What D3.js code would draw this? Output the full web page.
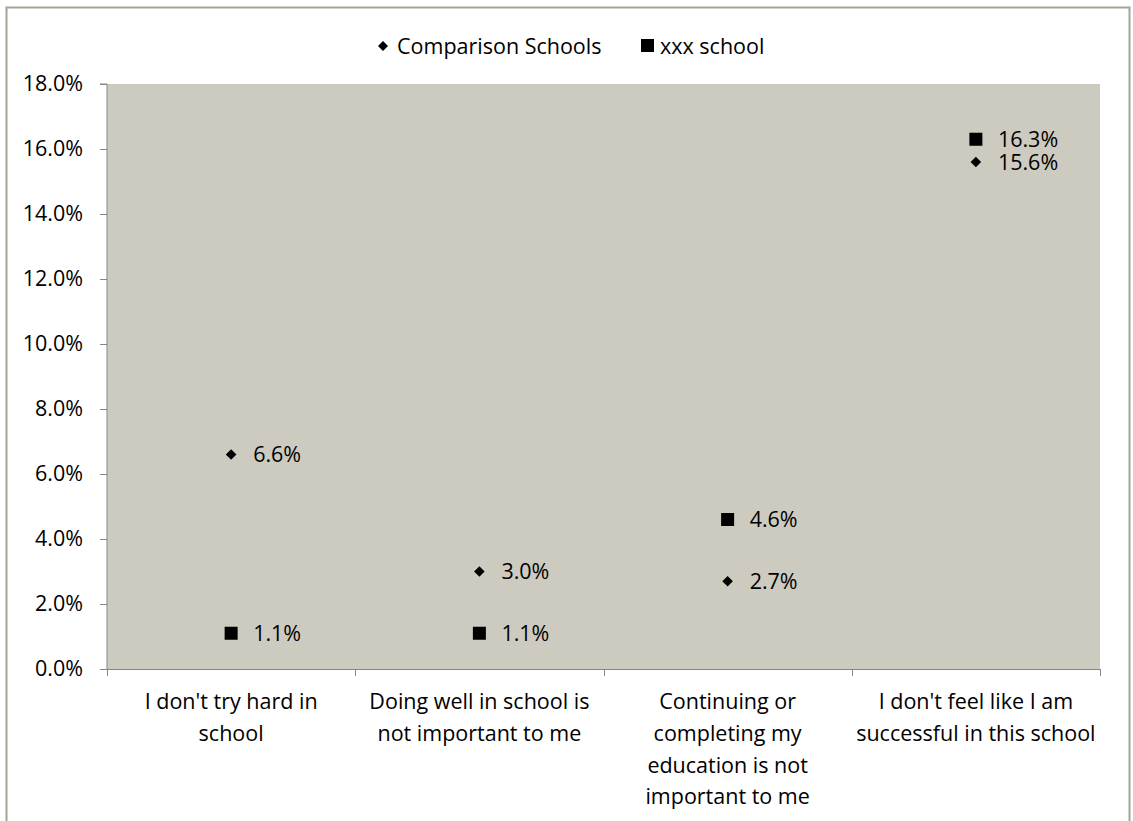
<!DOCTYPE html>
<html><head><meta charset="utf-8">
<script src="https://cdn.jsdelivr.net/npm/d3@7"></script>
<style>body{margin:0;background:#fff}svg text{font-family:"Open Sans",sans-serif;fill:#000}</style>
</head><body>
<svg id="c" width="1133" height="821"></svg>
<script>
const categories = [
  ["I don't try hard in", "school"],
  ["Doing well in school is", "not important to me"],
  ["Continuing or", "completing my", "education is not", "important to me"],
  ["I don't feel like I am", "successful in this school"]
];
const comparisonSchools = [6.6, 3.0, 2.7, 15.6];
const xxxSchool = [1.1, 1.1, 4.6, 16.3];
const yTicks = [0, 2, 4, 6, 8, 10, 12, 14, 16, 18];
const seriesNames = ["Comparison Schools", "xxx school"];

const FS = "21.5px";
const svg = d3.select("#c");
const m = {l: 107, r: 1100, t: 84, b: 669};

svg.append("rect").attr("x", 6.5).attr("y", 7.5).attr("width", 1123).attr("height", 820)
  .attr("fill", "#fff").attr("stroke", "#a2a596").attr("stroke-width", 2);

const x = d3.scaleBand().domain(d3.range(categories.length)).range([m.l, m.r]);
const y = d3.scaleLinear().domain([0, 18]).range([m.b, m.t]);

svg.append("rect").attr("x", m.l).attr("y", m.t).attr("width", m.r - m.l).attr("height", m.b - m.t)
  .attr("fill", "#cdcbbf");

// y axis
const ya = svg.append("g").attr("transform", `translate(${m.l},0)`)
  .call(d3.axisLeft(y).tickValues(yTicks).tickFormat(d => d.toFixed(1) + "%").tickSize(7).tickPadding(17));
ya.select(".domain").attr("stroke", "#868686").attr("d", `M-7,${m.t}H0V${m.b}`);
ya.selectAll(".tick line").attr("stroke", "#868686");
ya.selectAll(".tick text").style("font-size", FS).attr("fill", "#000");

// x axis
const xa = svg.append("g").attr("transform", `translate(0,${m.b})`);
xa.append("line").attr("x1", m.l).attr("x2", m.r).attr("y1", 0.5).attr("y2", 0.5).attr("stroke", "#868686");
const bounds = d3.range(categories.length + 1).map(i => m.l + i * x.step());
xa.selectAll("line.t").data(bounds).join("line").attr("class", "t")
  .attr("x1", d => Math.round(d) + 0.5).attr("x2", d => Math.round(d) + 0.5).attr("y1", 0).attr("y2", 7).attr("stroke", "#868686");
categories.forEach((lines, i) => {
  const t = xa.append("text").attr("text-anchor", "middle").style("font-size", FS)
    .attr("x", x(i) + x.bandwidth() / 2).attr("y", 40);
  lines.forEach((ln, j) => t.append("tspan").attr("x", x(i) + x.bandwidth() / 2).attr("dy", j ? 31.8 : 0).text(ln));
});

const cx = i => x(i) + x.bandwidth() / 2;

// comparison diamonds
const g1 = svg.append("g");
comparisonSchools.forEach((v, i) => {
  g1.append("path").attr("d", d3.symbol().type(d3.symbolSquare).size(56)())
    .attr("transform", `translate(${cx(i)},${y(v)}) rotate(45)`).attr("fill", "#000");
  g1.append("text").attr("x", cx(i) + 22).attr("y", y(v)).attr("dy", "0.35em").style("font-size", FS)
    .text(v.toFixed(1) + "%");
});
// xxx squares
const g2 = svg.append("g");
xxxSchool.forEach((v, i) => {
  g2.append("rect").attr("x", cx(i) - 6.5).attr("y", y(v) - 6.5).attr("width", 13).attr("height", 13).attr("fill", "#000");
  g2.append("text").attr("x", cx(i) + 22).attr("y", y(v)).attr("dy", "0.35em").style("font-size", FS)
    .text(v.toFixed(1) + "%");
});

// legend
const lg = svg.append("g");
lg.append("path").attr("d", d3.symbol().type(d3.symbolSquare).size(50)())
  .attr("transform", `translate(383,46) rotate(45)`).attr("fill", "#000");
lg.append("text").attr("x", 397).attr("y", 46).attr("dy", "0.35em").style("font-size", FS).text(seriesNames[0]);
lg.append("rect").attr("x", 641).attr("y", 39).attr("width", 13).attr("height", 13).attr("fill", "#000");
lg.append("text").attr("x", 660).attr("y", 46).attr("dy", "0.35em").style("font-size", FS).text(seriesNames[1]);
</script>
</body></html>
